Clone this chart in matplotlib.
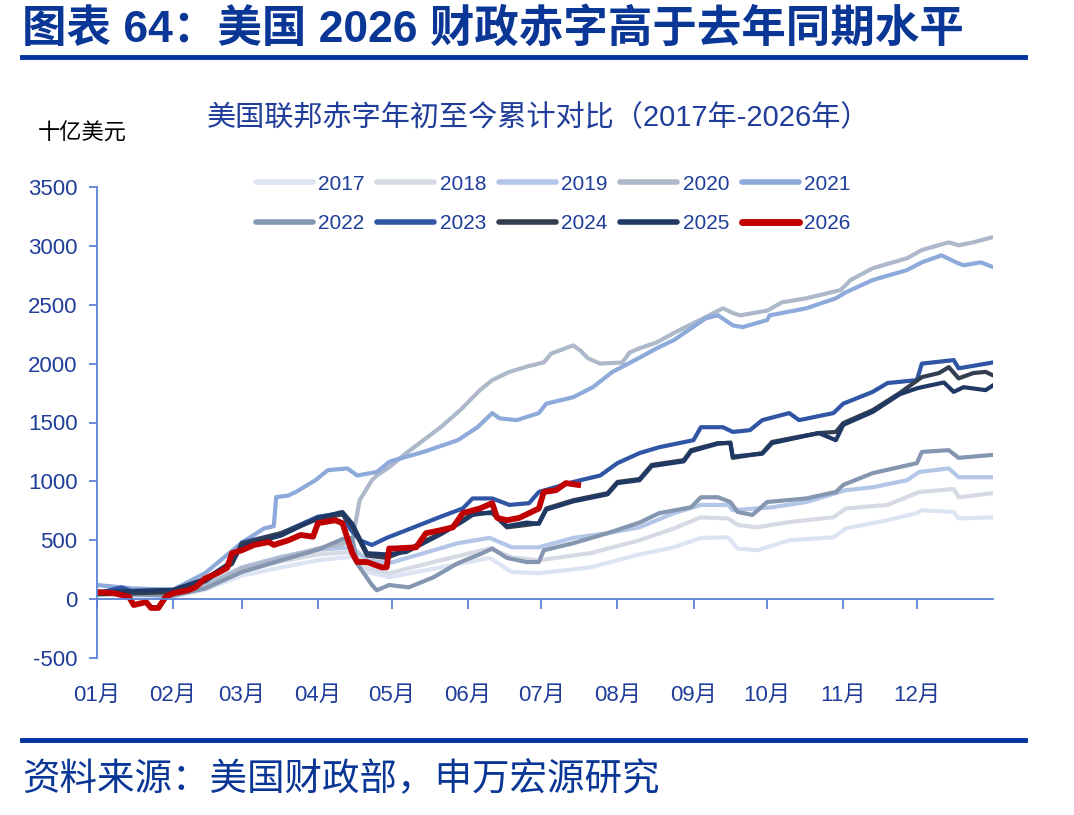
import numpy as np
import matplotlib
matplotlib.use("Agg")
import matplotlib.pyplot as plt

plt.rcParams['font.family'] = ['Liberation Sans', 'Noto Sans CJK SC', 'DejaVu Sans']
plt.rcParams['axes.unicode_minus'] = False

# cumulative fiscal-year-to-date deficit, billion USD, x = day of calendar year
days_2017 = [0, 15, 31, 44, 59, 75, 90, 104, 110, 119, 140, 160, 169, 180, 201, 221, 235, 246, 257, 261, 269, 282, 300, 305, 322, 334, 336, 349, 351, 365]
vals_2017 = [40, 30, 20, 80, 200, 270, 330, 360, 230, 185, 270, 350, 230, 220, 270, 380, 440, 520, 525, 430, 415, 500, 525, 600, 670, 730, 755, 740, 685, 695]

days_2018 = [0, 15, 31, 44, 59, 75, 90, 104, 110, 119, 140, 160, 169, 180, 201, 221, 235, 246, 257, 261, 269, 282, 300, 305, 322, 335, 349, 351, 365]
vals_2018 = [50, 40, 30, 100, 240, 320, 380, 400, 260, 220, 330, 430, 355, 330, 390, 500, 600, 695, 685, 630, 610, 655, 695, 770, 800, 910, 935, 865, 900]

days_2019 = [0, 15, 31, 44, 59, 75, 90, 104, 110, 119, 133, 147, 160, 169, 180, 194, 208, 221, 235, 246, 257, 259, 275, 289, 305, 316, 330, 335, 347, 351, 365]
vals_2019 = [60, 50, 40, 120, 270, 360, 420, 440, 330, 305, 390, 475, 520, 440, 440, 520, 560, 610, 730, 800, 800, 755, 780, 825, 925, 950, 1010, 1080, 1110, 1035, 1035]

days_2020 = [0, 15, 31, 44, 59, 75, 90, 100, 104, 107, 112, 114, 119, 126, 140, 148, 156, 161, 168, 176, 182, 185, 194, 197, 200, 205, 214, 217, 221, 228, 235, 247, 255, 259, 262, 273, 279, 289, 303, 307, 316, 330, 336, 347, 351, 357, 365]
vals_2020 = [50, 40, 30, 110, 260, 350, 430, 470, 500, 840, 1010, 1050, 1120, 1240, 1460, 1605, 1775, 1860, 1930, 1980, 2010, 2085, 2155, 2110, 2045, 2000, 2010, 2095, 2130, 2180, 2260, 2385, 2470, 2430, 2410, 2450, 2520, 2555, 2625, 2710, 2810, 2895, 2965, 3030, 3005, 3030, 3075]

days_2021 = [0, 15, 31, 44, 59, 68, 72, 73, 78, 81, 89, 94, 102, 106, 114, 119, 121, 133, 147, 155, 161, 164, 171, 180, 183, 194, 202, 210, 221, 228, 235, 248, 253, 259, 263, 273, 274, 289, 301, 305, 316, 330, 336, 344, 350, 353, 360, 365]
vals_2021 = [120, 90, 80, 220, 480, 600, 620, 866, 880, 910, 1010, 1095, 1110, 1050, 1080, 1165, 1180, 1250, 1350, 1460, 1580, 1535, 1520, 1580, 1660, 1715, 1800, 1930, 2050, 2130, 2200, 2385, 2410, 2325, 2310, 2370, 2410, 2470, 2555, 2605, 2710, 2795, 2860, 2920, 2860, 2835, 2860, 2820]

days_2022 = [0, 15, 31, 44, 59, 75, 90, 100, 104, 106, 112, 114, 119, 127, 137, 147, 157, 161, 167, 175, 180, 182, 194, 208, 221, 229, 242, 246, 253, 258, 261, 267, 273, 289, 301, 304, 316, 334, 336, 347, 351, 365]
vals_2022 = [60, 40, 30, 90, 230, 330, 420, 510, 520, 300, 120, 75, 120, 100, 185, 305, 390, 430, 350, 315, 315, 415, 475, 560, 650, 730, 780, 865, 865, 825, 740, 715, 825, 855, 910, 970, 1070, 1155, 1250, 1265, 1200, 1225]

days_2023 = [0, 10, 15, 31, 44, 55, 59, 75, 90, 100, 103, 107, 112, 118, 126, 140, 149, 153, 161, 168, 176, 180, 194, 205, 212, 221, 229, 243, 246, 255, 259, 266, 271, 282, 286, 300, 304, 316, 322, 334, 336, 349, 351, 365]
vals_2023 = [50, 100, 60, 70, 170, 300, 480, 560, 700, 730, 600, 500, 460, 520, 585, 700, 770, 855, 855, 800, 815, 910, 995, 1050, 1155, 1240, 1290, 1350, 1460, 1460, 1420, 1435, 1520, 1580, 1520, 1580, 1660, 1760, 1835, 1860, 2000, 2030, 1960, 2010]

days_2024 = [0, 15, 31, 44, 55, 59, 75, 90, 100, 104, 110, 118, 126, 140, 149, 153, 161, 167, 175, 180, 183, 194, 208, 212, 221, 226, 239, 242, 253, 258, 259, 271, 275, 285, 294, 301, 304, 316, 327, 336, 343, 347, 351, 357, 362, 365]
vals_2024 = [40, 50, 60, 150, 300, 470, 560, 680, 720, 620, 370, 350, 415, 560, 670, 730, 730, 610, 630, 645, 770, 840, 900, 995, 1020, 1140, 1180, 1265, 1325, 1325, 1200, 1240, 1335, 1375, 1410, 1420, 1495, 1605, 1750, 1885, 1920, 1970, 1875, 1920, 1930, 1900]

days_2025 = [0, 15, 31, 44, 55, 59, 75, 90, 100, 104, 110, 118, 126, 140, 149, 153, 161, 167, 175, 180, 183, 194, 208, 212, 221, 226, 239, 242, 253, 258, 259, 271, 275, 285, 294, 301, 304, 316, 327, 334, 336, 345, 349, 353, 362, 365]
vals_2025 = [60, 70, 80, 170, 320, 450, 540, 690, 740, 640, 390, 380, 400, 550, 660, 715, 740, 620, 650, 640, 760, 830, 890, 985, 1010, 1130, 1170, 1255, 1320, 1330, 1210, 1235, 1325, 1370, 1410, 1350, 1480, 1590, 1740, 1790, 1800, 1840, 1760, 1800, 1775, 1815]

days_2026 = [0, 7, 13, 15, 20, 22, 25, 28, 31, 37, 40, 44, 49, 53, 55, 59, 64, 70, 72, 78, 83, 88, 90, 97, 100, 104, 106, 110, 116, 118, 119, 121, 130, 134, 140, 145, 149, 156, 161, 163, 167, 172, 180, 182, 187, 191, 196]
vals_2026 = [60, 50, 20, -50, -25, -75, -75, 20, 50, 75, 100, 175, 220, 265, 390, 415, 460, 485, 460, 500, 545, 530, 645, 670, 645, 390, 315, 315, 270, 270, 430, 430, 440, 560, 585, 610, 730, 770, 815, 690, 670, 690, 770, 910, 925, 985, 970]

years = ['2017', '2018', '2019', '2020', '2021', '2022', '2023', '2024', '2025', '2026']
colors = ['#dce4f4', '#d5dae4', '#b4c6e7', '#adb9ca', '#8eaadb',
          '#8496b0', '#2f55a4', '#333f50', '#1f3864', '#c00000']

month_days = [0, 31, 59, 90, 120, 151, 181, 212, 243, 273, 304, 334]
month_labels = ['01月', '02月', '03月', '04月', '05月', '06月', '07月', '08月', '09月', '10月', '11月', '12月']

series = [(days_2017, vals_2017), (days_2018, vals_2018), (days_2019, vals_2019),
          (days_2020, vals_2020), (days_2021, vals_2021), (days_2022, vals_2022),
          (days_2023, vals_2023), (days_2024, vals_2024), (days_2025, vals_2025),
          (days_2026, vals_2026)]

navy = '#0a3696'
text_blue = '#1f3d99'
axis_blue = '#5b82d6'

fig = plt.figure(figsize=(10.74, 8.15), dpi=100)
ax = fig.add_axes([97 / 1074, 1 - 658 / 815, (993 - 97) / 1074, (658 - 187) / 815])

lines = []
for (d, v), yr, c in zip(series, years, colors):
    lw = 4.2 if yr == '2026' else 3.0
    ln, = ax.plot(d, v, color=c, lw=lw, label=yr, solid_joinstyle='round')
    lines.append(ln)

ax.set_xlim(0, 365)
ax.set_ylim(-500, 3500)
ax.set_yticks(np.arange(-500, 3501, 500))
ax.set_xticks(month_days)
ax.set_xticklabels(month_labels)

for s in ['top', 'right']:
    ax.spines[s].set_visible(False)
ax.spines['bottom'].set_position(('data', 0))
ax.spines['bottom'].set_color(axis_blue)
ax.spines['left'].set_color(axis_blue)
ax.spines['bottom'].set_linewidth(1.3)
ax.spines['left'].set_linewidth(1.3)
ax.tick_params(axis='y', colors=axis_blue, labelcolor=text_blue, labelsize=16, length=6, width=1.3,
               pad=8)
ax.tick_params(axis='x', colors=axis_blue, labelcolor=text_blue, labelsize=16, length=7, width=1.3,
               pad=55)

order = [0, 5, 1, 6, 2, 7, 3, 8, 4, 9]
leg = fig.legend([lines[i] for i in order], [years[i] for i in order], ncol=5,
                 loc='center', bbox_to_anchor=(553 / 1074, 1 - 204 / 815),
                 frameon=False, fontsize=15, handlelength=2.75, handletextpad=0.25,
                 columnspacing=0.6, labelspacing=1.0)
for t in leg.get_texts():
    t.set_color(text_blue)
for h, i in zip(leg.legend_handles, order):
    h.set_linewidth(5.0 if years[i] == '2026' else 4.0)
    h.set_solid_capstyle('round')

fig.text(22 / 1074, 1 - 29 / 815, '图表 64：美国 2026 财政赤字高于去年同期水平',
         fontsize=32, fontweight='bold', color=navy, va='center', ha='left',
         family=['Liberation Sans', 'Noto Sans CJK SC'])
fig.add_artist(plt.Line2D([22 / 1074, 1025 / 1074], [1 - 57 / 815, 1 - 57 / 815],
                          color='#0033a0', lw=3.5))
fig.text(539 / 1074, 1 - 118 / 815, '美国联邦赤字年初至今累计对比（2017年-2026年）',
         fontsize=21, color=text_blue, ha='center', va='center')
fig.text(38 / 1074, 1 - 134 / 815, '十亿美元', fontsize=16, color='black', ha='left', va='center')

fig.add_artist(plt.Line2D([22 / 1074, 1025 / 1074], [1 - 740 / 815, 1 - 740 / 815],
                          color='#0033a0', lw=3.5))
fig.text(22 / 1074, 1 - 780 / 815, '资料来源：美国财政部，申万宏源研究',
         fontsize=27, color=navy, ha='left', va='center')

fig.savefig('out.png', dpi=100)
